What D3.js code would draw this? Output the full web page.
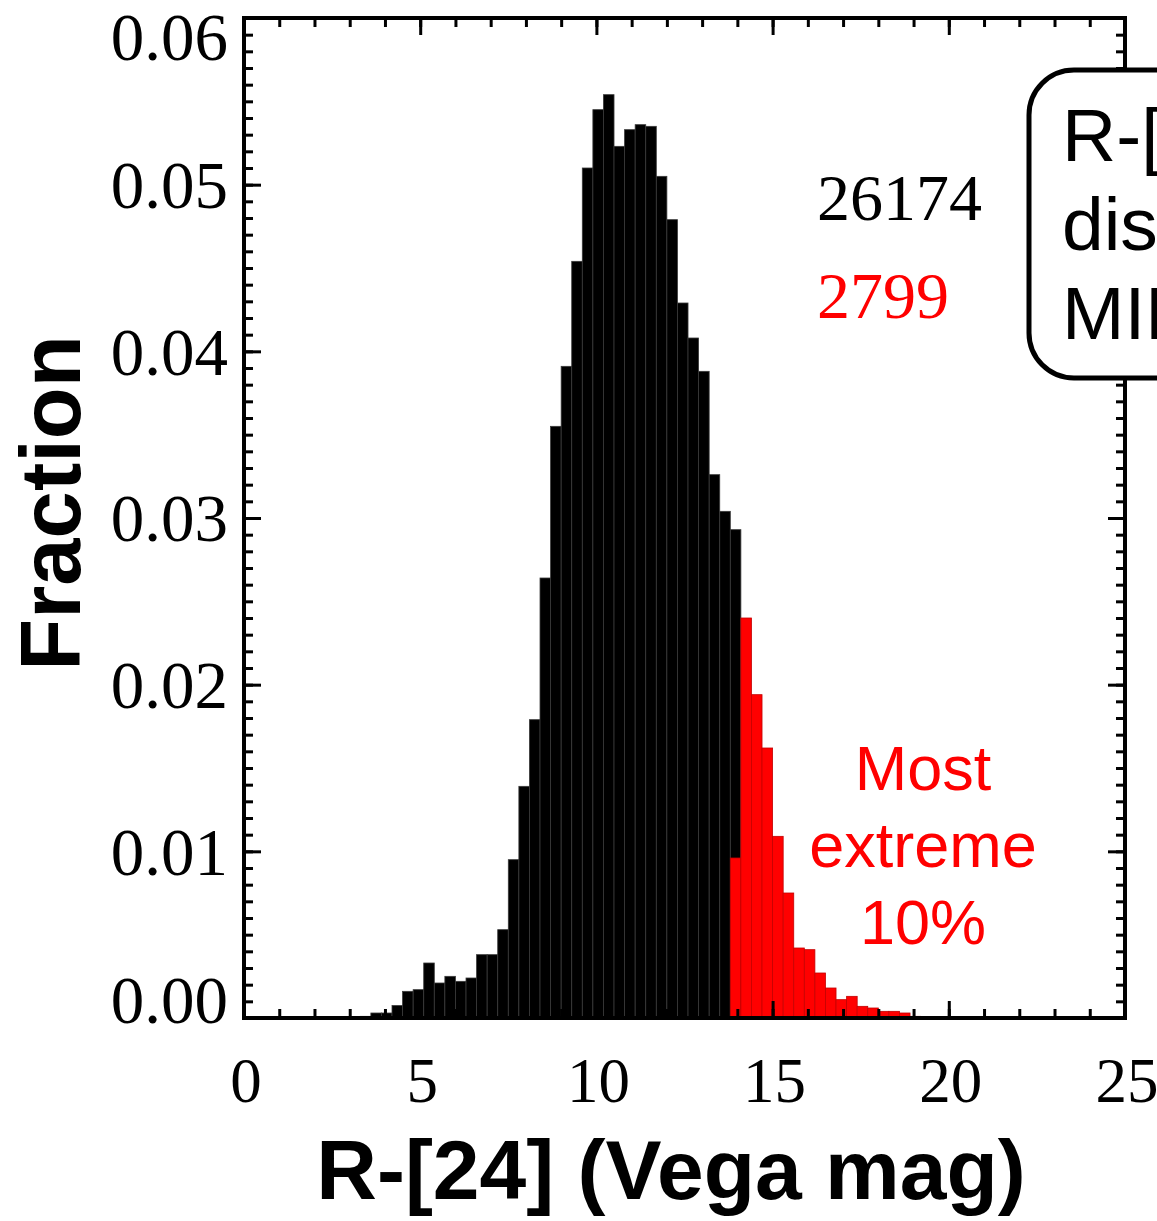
<!DOCTYPE html>
<html>
<head>
<meta charset="utf-8">
<script src="https://cdn.jsdelivr.net/npm/d3@7"></script>
<style>
  body { margin: 0; background: #fff; }
  svg { display: block; }
</style>
</head>
<body>
<div id="chart"></div>
<script>
// histogram bins (lower edge, mag) and fractions, all sources
const binWidth = 0.3
const allBins = [3.0, 3.3, 3.6, 3.9, 4.2, 4.5, 4.8, 5.1, 5.4, 5.7, 6.0, 6.3, 6.6, 6.9, 7.2, 7.5, 7.8, 8.1,
  8.4, 8.7, 9.0, 9.3, 9.6, 9.9, 10.2, 10.5, 10.8, 11.1, 11.4, 11.7, 12.0, 12.3, 12.6, 12.9, 13.2, 13.5, 13.8]
const allValues = [0.00005, 0.0001, 0.0003, 0.0003, 0.00075, 0.0016, 0.0017, 0.0033, 0.0021, 0.0025, 0.0022,
  0.0024, 0.0038, 0.0038, 0.0053, 0.0095, 0.0139, 0.0179, 0.0264, 0.0355, 0.0391, 0.0454, 0.0510, 0.0545,
  0.0554, 0.0523, 0.0533, 0.0536, 0.0535, 0.0505, 0.0479, 0.0429, 0.0408, 0.0388, 0.0326, 0.0304, 0.0293]

// most extreme 10% (red)
const redBins = [13.8, 14.1, 14.4, 14.7, 15.0, 15.3, 15.6, 15.9, 16.2, 16.5, 16.8, 17.1, 17.4, 17.7, 18.0, 18.3, 18.6, 18.9]
const redValues = [0.0096, 0.0240, 0.0194, 0.0162, 0.0109, 0.0075, 0.0042, 0.0041, 0.0027, 0.0018, 0.0011,
  0.0013, 0.0007, 0.0006, 0.0004, 0.0004, 0.0003, 0.0001]

const xTicks = [0, 5, 10, 15, 20, 25]
const yTicks = [0, 0.01, 0.02, 0.03, 0.04, 0.05, 0.06]
const countAll = '26174'
const countRed = '2799'

const W = 1157, H = 1221
const serif = "'Liberation Serif', 'Times New Roman', serif"
const sans = "'Liberation Sans', Arial, sans-serif"

const svg = d3.select('#chart').append('svg')
  .attr('width', W)
  .attr('height', H)

const x = d3.scaleLinear().domain([0, 25]).range([244, 1125])
const y = d3.scaleLinear().domain([0, 0.06]).range([1018, 18])

function drawBars(bins, values, fill, stroke) {
  svg.append('g')
    .selectAll('rect')
    .data(bins.map((b, i) => ({ lo: b, v: values[i] })))
    .join('rect')
    .attr('x', d => x(d.lo))
    .attr('width', d => x(d.lo + binWidth) - x(d.lo))
    .attr('y', d => y(d.v))
    .attr('height', d => y(0) - y(d.v))
    .attr('fill', fill)
    .attr('stroke', stroke)
    .attr('stroke-width', 0.8)
}

drawBars(allBins, allValues, '#000', '#3a3a3a')
drawBars(redBins, redValues, '#ff0000', '#c40000')

// ticks on all four sides, pointing inward
const xMinor = d3.range(0, 26, 1)
const yMinor = d3.range(0, 0.0605, 0.001)

function tickAxis(axisFn, scale, values, size, transform) {
  const g = svg.append('g')
    .attr('transform', transform)
    .call(axisFn(scale).tickValues(values).tickSize(-size).tickFormat(''))
  g.select('.domain').remove()
  g.selectAll('line').attr('stroke', '#000').attr('stroke-width', 3)
  return g
}

tickAxis(d3.axisBottom, x, xMinor, 9, `translate(0,${y(0)})`)
tickAxis(d3.axisBottom, x, xTicks, 17, `translate(0,${y(0)})`)
tickAxis(d3.axisTop, x, xMinor, 9, `translate(0,${y(0.06)})`)
tickAxis(d3.axisTop, x, xTicks, 17, `translate(0,${y(0.06)})`)
tickAxis(d3.axisLeft, y, yMinor, 9, `translate(${x(0)},0)`)
tickAxis(d3.axisLeft, y, yTicks, 17, `translate(${x(0)},0)`)
tickAxis(d3.axisRight, y, yMinor, 9, `translate(${x(25)},0)`)
tickAxis(d3.axisRight, y, yTicks, 17, `translate(${x(25)},0)`)

// frame
svg.append('rect')
  .attr('x', x(0))
  .attr('y', y(0.06))
  .attr('width', x(25) - x(0))
  .attr('height', y(0) - y(0.06))
  .attr('fill', 'none')
  .attr('stroke', '#000')
  .attr('stroke-width', 4)

// tick labels
svg.append('g')
  .selectAll('text')
  .data(yTicks)
  .join('text')
  .attr('x', x(0) - 16)
  .attr('y', d => Math.min(Math.max(y(d), 37), 1000))
  .attr('dy', '0.35em')
  .attr('text-anchor', 'end')
  .attr('font-family', serif)
  .attr('font-size', 67)
  .text(d => d3.format('.2f')(d))

svg.append('g')
  .selectAll('text')
  .data(xTicks)
  .join('text')
  .attr('x', d => x(d) + 2)
  .attr('y', 1102)
  .attr('text-anchor', 'middle')
  .attr('font-family', serif)
  .attr('font-size', 63)
  .text(d => d)

// axis titles
svg.append('text')
  .attr('transform', 'translate(80,503) rotate(-90)')
  .attr('text-anchor', 'middle')
  .attr('font-family', sans)
  .attr('font-weight', 'bold')
  .attr('font-size', 85)
  .text('Fraction')

svg.append('text')
  .attr('x', 671)
  .attr('y', 1199)
  .attr('text-anchor', 'middle')
  .attr('font-family', sans)
  .attr('font-weight', 'bold')
  .attr('font-size', 84)
  .text('R-[24] (Vega mag)')

// counts
svg.append('text')
  .attr('x', 817)
  .attr('y', 220)
  .attr('font-family', serif)
  .attr('font-size', 66)
  .attr('fill', '#000')
  .text(countAll)

svg.append('text')
  .attr('x', 817)
  .attr('y', 318)
  .attr('font-family', serif)
  .attr('font-size', 66)
  .attr('fill', '#ff0000')
  .text(countRed)

// red annotation
const note = svg.append('text')
  .attr('font-family', sans)
  .attr('font-size', 63)
  .attr('fill', '#ff0000')
  .attr('text-anchor', 'middle')
;['Most', 'extreme', '10%'].forEach((t, i) => {
  note.append('tspan').attr('x', 923).attr('y', 790 + i * 77).text(t)
})

// box on the right (cut by the edge of the figure)
svg.append('rect')
  .attr('x', 1029)
  .attr('y', 70)
  .attr('width', 260)
  .attr('height', 308)
  .attr('rx', 45)
  .attr('fill', '#fff')
  .attr('stroke', '#000')
  .attr('stroke-width', 5)

const boxText = svg.append('text')
  .attr('font-family', sans)
  .attr('font-size', 75)
  .attr('fill', '#000')
;['R-[24]', 'distribution', 'MIPS'].forEach((t, i) => {
  boxText.append('tspan').attr('x', 1062).attr('y', 161 + i * 89).text(t)
})
</script>
</body>
</html>
